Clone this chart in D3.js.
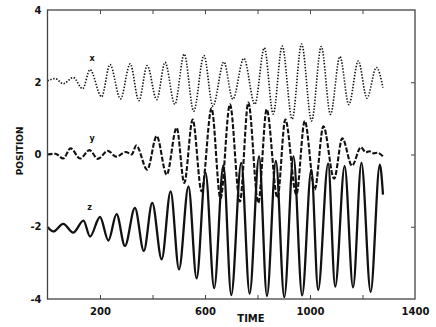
<!DOCTYPE html>
<html>
<head>
<meta charset="utf-8">
<script src="https://cdn.jsdelivr.net/npm/d3@7"></script>
<style>
  body { margin: 0; background: #fff; }
  text { font-family: "DejaVu Sans", sans-serif; font-weight: bold; fill: #111; }
</style>
</head>
<body>
<svg id="chart"></svg>
<script>
// Extrema (time, position), one pair per turning point
const xTimes = [0, 29, 60, 98, 134, 162, 206, 238, 278, 315, 348, 380, 416, 448, 485, 521, 557, 596, 630, 672, 706, 748, 790, 826, 860, 894, 932, 968, 1006, 1043, 1078, 1114, 1148, 1184, 1217, 1253, 1278];
const xValues = [2.04, 2.10, 1.96, 2.13, 1.82, 2.35, 1.60, 2.49, 1.54, 2.51, 1.49, 2.46, 1.52, 2.55, 1.39, 2.78, 1.20, 2.74, 1.34, 2.56, 1.53, 2.66, 1.39, 2.95, 1.12, 3.00, 0.98, 3.06, 0.93, 2.99, 1.11, 2.71, 1.38, 2.59, 1.56, 2.41, 1.85];

const yTimes = [0, 30, 60, 88, 124, 160, 192, 230, 262, 298, 321, 338, 380, 416, 454, 492, 521, 553, 587, 625, 659, 695, 733, 765, 803, 835, 876, 906, 948, 980, 1018, 1051, 1092, 1123, 1160, 1194, 1213, 1226, 1243, 1256, 1278];
const yValues = [0.0, 0.02, -0.11, 0.17, -0.11, 0.12, -0.12, 0.10, -0.06, 0.07, 0.0, 0.25, -0.42, 0.51, -0.56, 0.74, -0.79, 0.97, -1.02, 1.28, -1.22, 1.39, -1.30, 1.44, -1.34, 1.25, -1.20, 0.97, -1.11, 0.93, -0.97, 0.78, -0.67, 0.45, -0.31, 0.20, 0.06, 0.09, 0.03, 0.05, -0.05];

const zTimes = [0, 22, 60, 98, 137, 162, 200, 232, 263, 295, 333, 367, 399, 435, 469, 501, 537, 568, 602, 635, 670, 700, 738, 770, 806, 836, 870, 902, 937, 970, 1005, 1031, 1069, 1096, 1132, 1164, 1196, 1231, 1266, 1278];
const zValues = [-2.01, -2.13, -1.92, -2.16, -1.83, -2.27, -1.73, -2.38, -1.65, -2.53, -1.48, -2.67, -1.34, -2.90, -1.02, -3.18, -0.88, -3.43, -0.50, -3.70, -0.30, -3.89, -0.23, -3.85, -0.05, -3.92, -0.18, -3.95, -0.05, -3.90, -0.42, -3.75, -0.25, -3.66, -0.32, -3.68, -0.23, -3.80, -0.28, -1.11];

const seriesLabels = ["x", "y", "z"];
const xTickLabels = [200, 600, 1000, 1400];
const xMinorTicks = [200, 400, 600, 800, 1000, 1200];
const yTickLabels = [-4, -2, 0, 2, 4];
const yMinorTicks = [-2, 0, 2];

const WIDTH = 436;
const HEIGHT = 327;
const MARGINS = {top: 10, bottom: 28, left: 47.5, right: 21};

const svg = d3.select('#chart')
  .attr('width', WIDTH)
  .attr('height', HEIGHT);

const xScale = d3.scaleLinear()
  .domain([0, 1400])
  .range([MARGINS.left, WIDTH - MARGINS.right]);

const yScale = d3.scaleLinear()
  .domain([-4, 4])
  .range([HEIGHT - MARGINS.bottom, MARGINS.top]);

const line = d3.line()
  .x(d => xScale(d[0]))
  .y(d => yScale(d[1]))
  .curve(d3.curveMonotoneX);

function pairs(times, values) {
  return times.map((t, i) => [t, values[i]]);
}

// Curves
const series = [
  {data: pairs(xTimes, xValues), width: 1.6, dash: '1.4,1.6'},
  {data: pairs(yTimes, yValues), width: 2.1, dash: '5,1.8'},
  {data: pairs(zTimes, zValues), width: 2.3, dash: null}
];

svg.append('g')
  .selectAll('path')
  .data(series)
  .enter()
  .append('path')
  .attr('d', d => line(d.data))
  .style('fill', 'none')
  .style('stroke', '#111')
  .style('stroke-width', d => d.width)
  .style('stroke-dasharray', d => d.dash);

// Frame with inward ticks on all four sides
const plotH = yScale(-4) - yScale(4);
const plotW = xScale(1400) - xScale(0);

svg.append('g')
  .attr('transform', `translate(0, ${yScale(-4)})`)
  .call(d3.axisBottom(xScale).tickValues(xTickLabels).tickSize(0).tickPadding(9).tickFormat(d => String(d)))
  .call(g => g.select('.domain').remove());

svg.append('g')
  .attr('transform', `translate(0, ${yScale(-4)})`)
  .call(d3.axisTop(xScale).tickValues(xMinorTicks).tickSize(4).tickFormat(''))
  .call(g => g.select('.domain').remove());

svg.append('g')
  .attr('transform', `translate(0, ${yScale(4)})`)
  .call(d3.axisBottom(xScale).tickValues(xMinorTicks).tickSize(4).tickFormat(''))
  .call(g => g.select('.domain').remove());

svg.append('g')
  .attr('transform', `translate(${xScale(0)}, 0)`)
  .call(d3.axisLeft(yScale).tickValues(yTickLabels).tickSize(0).tickPadding(6).tickFormat(d => String(d)))
  .call(g => g.select('.domain').remove());

svg.append('g')
  .attr('transform', `translate(${xScale(1400)}, 0)`)
  .call(d3.axisLeft(yScale).tickValues(yMinorTicks).tickSize(4).tickFormat(''))
  .call(g => g.select('.domain').remove());

svg.selectAll('.tick text')
  .style('font-size', '10px')
  .style('font-family', '"DejaVu Sans", sans-serif')
  .style('font-weight', 'bold')
  .style('fill', '#111');

svg.selectAll('.tick line')
  .style('stroke', '#444')
  .style('stroke-width', 1);

svg.append('rect')
  .attr('x', xScale(0))
  .attr('y', yScale(4))
  .attr('width', plotW)
  .attr('height', plotH)
  .style('fill', 'none')
  .style('stroke', '#444')
  .style('stroke-width', 1.3);

// Series labels sit just above the start of each curve
const labelPos = [[170, 2.6], [170, 0.38], [160, -1.55]];
svg.append('g')
  .selectAll('text')
  .data(seriesLabels)
  .enter()
  .append('text')
  .attr('x', (d, i) => xScale(labelPos[i][0]))
  .attr('y', (d, i) => yScale(labelPos[i][1]))
  .style('font-size', '8px')
  .style('text-anchor', 'middle')
  .text(d => d);

// Axis titles
svg.append('text')
  .attr('x', 251)
  .attr('y', 322)
  .style('font-size', '10px')
  .style('text-anchor', 'middle')
  .text('TIME');

svg.append('text')
  .attr('transform', `translate(23, ${yScale(0.1)}) rotate(-90)`)
  .style('font-size', '9px')
  .style('text-anchor', 'middle')
  .text('POSITION');
</script>
</body>
</html>
